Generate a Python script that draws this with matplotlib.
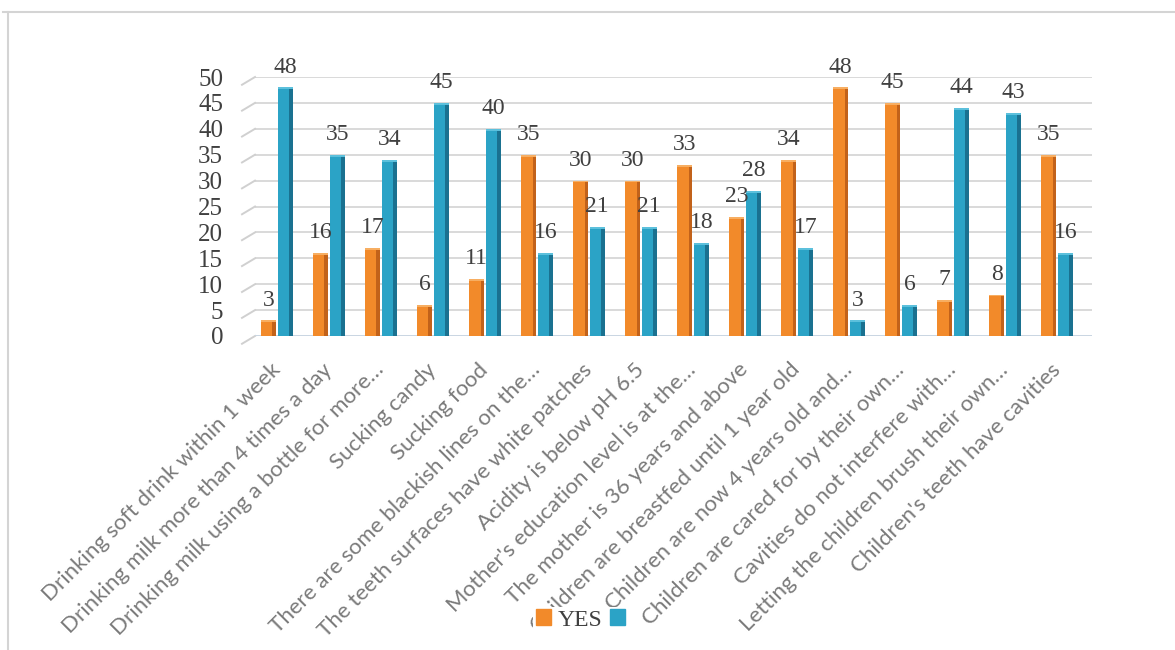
import matplotlib
matplotlib.use("Agg")
import matplotlib.pyplot as plt
import numpy as np
from matplotlib.lines import Line2D

categories = [
    "Drinking soft drink within 1 week",
    "Drinking milk more than 4 times a day",
    "Drinking milk using a bottle for more…",
    "Sucking candy",
    "Sucking food",
    "There are some blackish lines on the…",
    "The teeth surfaces have white patches",
    "Acidity is below pH 6.5",
    "Mother's education level is at the…",
    "The mother is 36 years and above",
    "Children are breastfed until 1 year old",
    "Children are now 4 years old and…",
    "Children are cared for by their own…",
    "Cavities do not interfere with…",
    "Letting the children brush their own…",
    "Children's teeth have cavities",
]
yes_values = [3, 16, 17, 6, 11, 35, 30, 30, 33, 23, 34, 48, 45, 7, 8, 35]
no_values = [48, 35, 34, 45, 40, 16, 21, 21, 18, 28, 17, 3, 6, 44, 43, 16]
y_ticks = [0, 5, 10, 15, 20, 25, 30, 35, 40, 45, 50]

ORANGE = "#F28A2A"
ORANGE_DARK = "#C2621A"
ORANGE_TOP = "#F7AE62"
TEAL = "#2BA3C6"
TEAL_DARK = "#1A7190"
TEAL_TOP = "#5CC0DC"
SERIF = "Liberation Serif"
SANS = "Lato"

fig = plt.figure(figsize=(11.75, 6.5), dpi=100)
ax = fig.add_axes([255 / 1175, 1 - 336 / 650, (1092 - 255) / 1175, (336 - 77) / 650])

x = np.arange(len(categories))
w = 0.29
off = 0.16
side = 0.07
XMIN, XMAX = -0.42, 15.67


def draw_series(xc, vals, face, dark, top):
    vals = np.asarray(vals, dtype=float)
    ax.bar(xc, vals, width=w, color=face, zorder=3, linewidth=0)
    # darker side face and a light top cap for a shaded, box-like look
    ax.bar(xc + w / 2 - side / 2, vals, width=side, color=dark, zorder=4, linewidth=0)
    ax.bar(xc, 0.35, bottom=vals - 0.35, width=w, color=top, zorder=4, linewidth=0)


draw_series(x - off, yes_values, ORANGE, ORANGE_DARK, ORANGE_TOP)
draw_series(x + off, no_values, TEAL, TEAL_DARK, TEAL_TOP)

for xi, v in zip(x - off, yes_values):
    ax.text(xi, v + 1.9, str(v), ha="center", va="bottom", fontsize=17,
            family=SERIF, color="#404040", zorder=6, clip_on=False)
for xi, v in zip(x + off, no_values):
    ax.text(xi, v + 1.9, str(v), ha="center", va="bottom", fontsize=17,
            family=SERIF, color="#404040", zorder=6, clip_on=False)

ax.set_xlim(XMIN, XMAX)
ax.set_ylim(0, 50)
ax.set_yticks(y_ticks)
ax.set_yticklabels([str(t) for t in y_ticks], family=SERIF, fontsize=18, color="#404040")
ax.tick_params(axis="y", length=0, pad=23)
ax.set_xticks(x)
ax.set_xticklabels(categories, rotation=45, ha="right", va="center",
                   rotation_mode="anchor", family=SANS, fontsize=16, color="#7a7a7a")
ax.tick_params(axis="x", length=0, pad=22)

ax.yaxis.grid(True, color="#D9D9D9", linewidth=1.4, zorder=0)
ax.set_axisbelow(True)
ax.axhline(0, color="#C9D6E3", linewidth=2, zorder=2)
# short slanted stubs at the left end of every gridline (wall edge)
for t in y_ticks:
    ax.plot([XMIN - 0.25, XMIN], [t - 1.5, t], color="#D0D0D0", lw=1.4,
            clip_on=False, zorder=1)
for s in ax.spines.values():
    s.set_visible(False)

handles = [plt.Rectangle((0, 0), 1, 1, color=ORANGE), plt.Rectangle((0, 0), 1, 1, color=TEAL)]
leg = fig.legend(handles, ["YES", ""], loc="center", bbox_to_anchor=(584 / 1175, 1 - 620 / 650),
                 ncol=2, frameon=True, handlelength=0.65, handleheight=0.65, handletextpad=0.3,
                 columnspacing=0.3, prop={"family": SERIF, "size": 17}, borderpad=0.1)
leg.get_frame().set_facecolor("white")
leg.get_frame().set_edgecolor("none")
leg.get_frame().set_alpha(1)
leg.set_zorder(10)
for t in leg.get_texts():
    t.set_color("#404040")

# outer frame
fig.add_artist(Line2D([8 / 1175, 8 / 1175], [0, 1 - 12 / 650], color="#D4D4D4", lw=1.5))
fig.add_artist(Line2D([3 / 1175, 1], [1 - 12 / 650, 1 - 12 / 650], color="#D4D4D4", lw=1.5))

fig.savefig("out.png", dpi=100, facecolor="white")
